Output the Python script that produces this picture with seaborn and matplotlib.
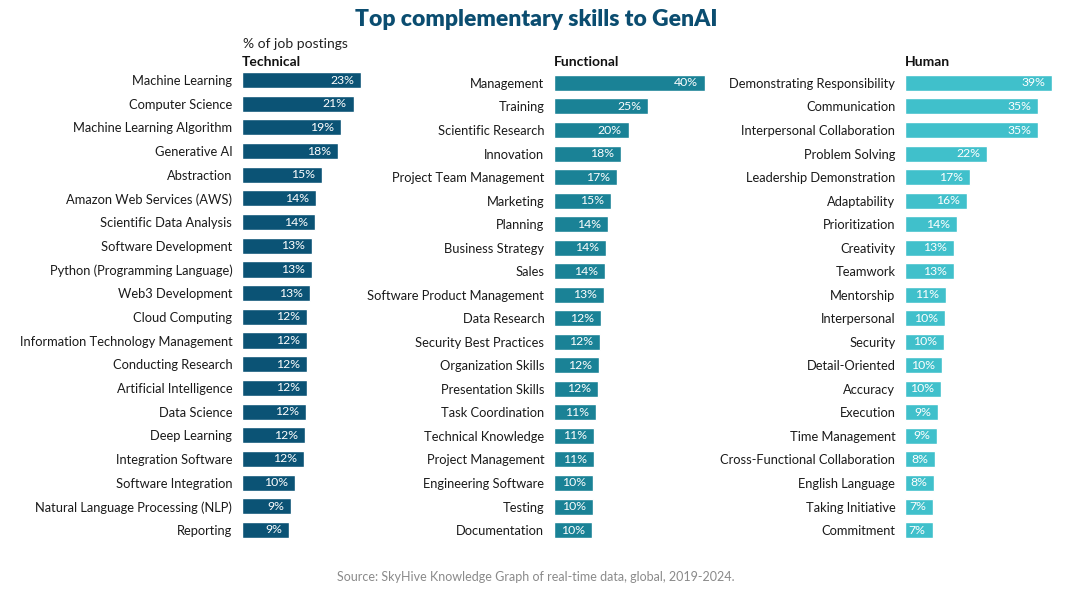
import matplotlib
matplotlib.use("Agg")
import matplotlib.pyplot as plt
import seaborn as sns
import pandas as pd

# --- data ---
technical_skills = [
    "Machine Learning", "Computer Science", "Machine Learning Algorithm", "Generative AI",
    "Abstraction", "Amazon Web Services (AWS)", "Scientific Data Analysis",
    "Software Development", "Python (Programming Language)", "Web3 Development",
    "Cloud Computing", "Information Technology Management", "Conducting Research",
    "Artificial Intelligence", "Data Science", "Deep Learning", "Integration Software",
    "Software Integration", "Natural Language Processing (NLP)", "Reporting",
]
technical_pct = [22.8, 21.4, 18.9, 18.3, 15.4, 14.1, 13.9, 13.4, 13.4, 13.0,
                 12.45, 12.4, 12.4, 12.4, 12.2, 12.0, 11.8, 10.1, 9.4, 9.0]

functional_skills = [
    "Management", "Training", "Scientific Research", "Innovation",
    "Project Team Management", "Marketing", "Planning", "Business Strategy", "Sales",
    "Software Product Management", "Data Research", "Security Best Practices",
    "Organization Skills", "Presentation Skills", "Task Coordination",
    "Technical Knowledge", "Project Management", "Engineering Software", "Testing",
    "Documentation",
]
functional_pct = [40.0, 24.9, 19.8, 17.7, 16.7, 15.1, 14.3, 13.8, 13.6, 13.2,
                  12.4, 12.2, 11.9, 11.6, 11.1, 10.6, 10.6, 10.3, 10.3, 10.1]

human_skills = [
    "Demonstrating Responsibility", "Communication", "Interpersonal Collaboration",
    "Problem Solving", "Leadership Demonstration", "Adaptability", "Prioritization",
    "Creativity", "Teamwork", "Mentorship", "Interpersonal", "Security",
    "Detail-Oriented", "Accuracy", "Execution", "Time Management",
    "Cross-Functional Collaboration", "English Language", "Taking Initiative",
    "Commitment",
]
human_pct = [39.0, 35.4, 35.3, 21.8, 17.2, 16.4, 13.8, 13.0, 13.0, 10.9,
             10.5, 10.3, 9.9, 9.6, 8.8, 8.6, 8.0, 7.7, 7.4, 7.3]

TITLE_COLOR = "#0b4d70"
COLORS = {"Technical": "#0b5375", "Functional": "#1a8296", "Human": "#40c0cb"}

sns.set_theme(style="white")
plt.rcParams["font.family"] = ["Lato", "DejaVu Sans"]

W, H = 1071, 597
fig = plt.figure(figsize=(W / 100, H / 100), dpi=100)


def px_axes(left, top, width, height):
    return fig.add_axes([left / W, 1 - (top + height) / H, width / W, height / H])


def panel(ax, name, skills, pct, xmax, head_off=-0.7):
    df = pd.DataFrame({"skill": skills, "pct": pct})
    sns.barplot(data=df, y="skill", x="pct", orient="h", color=COLORS[name],
                saturation=1, width=0.68, ax=ax)
    ax.set_xlim(0, xmax)
    ax.set_ylim(len(skills) - 0.5, -0.5)
    ax.set_xlabel("")
    ax.set_ylabel("")
    ax.set_xticks([])
    sns.despine(ax=ax, left=True, bottom=True)
    ax.tick_params(axis="y", length=0, pad=7, labelsize=9.3, labelcolor="#1a1a1a")
    for i, v in enumerate(pct):
        ax.annotate(f"{round(v)}%", xy=(v, i), xytext=(-5, 0),
                    textcoords="offset points", ha="right", va="center",
                    color="white", fontsize=8.8)
    ax.text(0, head_off, name, transform=ax.transData, ha="left", va="baseline",
            fontsize=10, fontweight="bold", color="#111111")


# axes in pixel coordinates: bars start at x = 242 / 554 / 905
ax_t = px_axes(242, 68.2, 25 * 5.22, 473.6)
ax_f = px_axes(554, 71.2, 42 * 3.78, 470.6)
ax_h = px_axes(905, 71.2, 42 * 3.77, 470.6)

panel(ax_t, "Technical", technical_skills, technical_pct, 25, head_off=-0.6)
panel(ax_f, "Functional", functional_skills, functional_pct, 42)
panel(ax_h, "Human", human_skills, human_pct, 42)

fig.text(243 / W, 1 - 44 / H, "% of job postings", ha="left", va="center",
         fontsize=10, color="#222222")
fig.text(536 / W, 1 - 20 / H, "Top complementary skills to GenAI", ha="center",
         va="center", fontsize=16.5, fontweight="heavy", color=TITLE_COLOR)
fig.text(536 / W, 1 - 577 / H,
         "Source: SkyHive Knowledge Graph of real-time data, global, 2019-2024.",
         ha="center", va="center", fontsize=9, color="#8a8a8a")

fig.savefig("out.png", dpi=100)
